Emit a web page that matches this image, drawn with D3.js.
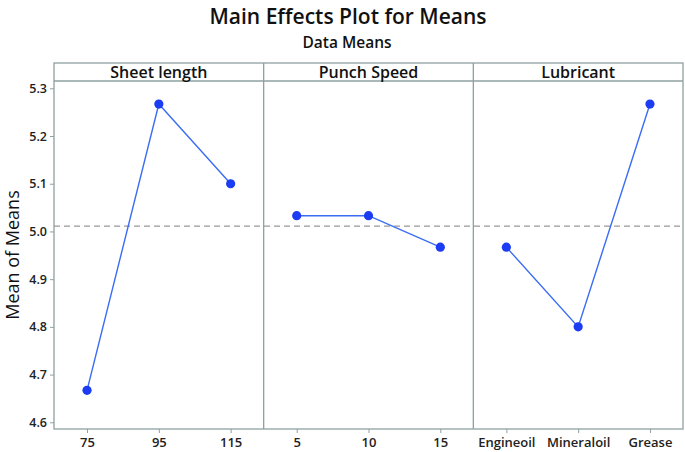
<!DOCTYPE html>
<html><head><meta charset="utf-8">
<script src="https://cdn.jsdelivr.net/npm/d3@7"></script>
<style>body{margin:0;background:#fff}svg{display:block}</style>
</head><body>
<script>
const factors = ["Sheet length", "Punch Speed", "Lubricant"];
const sheetLevels = ["75", "95", "115"];
const sheetMeans = [4.667, 5.267, 5.100];
const speedLevels = ["5", "10", "15"];
const speedMeans = [5.033, 5.033, 4.967];
const lubLevels = ["Engineoil", "Mineraloil", "Grease"];
const lubMeans = [4.967, 4.800, 5.267];
const yTicks = [4.6, 4.7, 4.8, 4.9, 5.0, 5.1, 5.2, 5.3];
const grandMean = 5.011;

const panels = [
  {name: factors[0], levels: sheetLevels, means: sheetMeans},
  {name: factors[1], levels: speedLevels, means: speedMeans},
  {name: factors[2], levels: lubLevels, means: lubMeans}
];

(function () {
const W = 685, H = 452;
const pLeft = 54, pRight = 683, pTop = 63, headerBottom = 81, pBottom = 429;
const font = "'Open Sans', 'Noto Sans', sans-serif";
const frame = "#8fa0a0";
const blue = "#1b3cf2";

const svg = d3.select("body").append("svg").attr("width", W).attr("height", H)
  .style("font-family", font);

svg.append("text").attr("x", 348).attr("y", 24).attr("text-anchor", "middle")
  .attr("font-size", 21).attr("font-weight", 600).attr("fill", "#111")
  .text("Main Effects Plot for Means");
svg.append("text").attr("x", 347).attr("y", 48).attr("text-anchor", "middle")
  .attr("font-size", 15.5).attr("font-weight", 600).attr("fill", "#111")
  .text("Data Means");

const y = d3.scaleLinear().domain([4.6, 5.3]).range([422.3, 88.3]);
const panelX = d3.scaleBand().domain(factors).range([pLeft, pRight]);

svg.append("rect").attr("x", pLeft).attr("y", pTop).attr("width", pRight - pLeft).attr("height", pBottom - pTop)
  .attr("fill", "none").attr("stroke", frame).attr("stroke-width", 1.3);
svg.append("line").attr("x1", pLeft).attr("x2", pRight).attr("y1", headerBottom).attr("y2", headerBottom)
  .attr("stroke", frame).attr("stroke-width", 1.3);

const yAxis = svg.append("g").attr("transform", `translate(${pLeft},0)`)
  .call(d3.axisLeft(y).tickValues(yTicks).tickFormat(d3.format(".1f")).tickSize(4).tickPadding(3));
yAxis.select(".domain").remove();
yAxis.selectAll(".tick line").attr("stroke", frame);
yAxis.selectAll("text").attr("font-size", 12.5).attr("font-family", font).attr("fill", "#222").attr("font-weight", 600);

svg.append("text").attr("transform", "translate(19,255) rotate(-90)").attr("text-anchor", "middle")
  .attr("font-size", 18).attr("fill", "#111").attr("font-weight", 500).text("Mean of Means");

svg.append("line").attr("x1", pLeft).attr("x2", pRight).attr("y1", y(grandMean)).attr("y2", y(grandMean))
  .attr("stroke", "#999").attr("stroke-width", 1.2).attr("stroke-dasharray", "6,4");

panels.forEach((p, i) => {
  const x0 = panelX(p.name), x1 = x0 + panelX.bandwidth();
  if (i > 0) {
    svg.append("line").attr("x1", x0).attr("x2", x0).attr("y1", pTop).attr("y2", pBottom)
      .attr("stroke", frame).attr("stroke-width", 1.3);
  }
  svg.append("text").attr("x", (x0 + x1) / 2).attr("y", 78).attr("text-anchor", "middle")
    .attr("font-size", 16).attr("font-weight", 600).attr("fill", "#111").text(p.name);

  const x = d3.scalePoint().domain(p.levels).range([x0, x1]).padding(0.46);
  const xa = svg.append("g").attr("transform", `translate(0,${pBottom})`)
    .call(d3.axisBottom(x).tickSize(4).tickPadding(5));
  xa.select(".domain").remove();
  xa.selectAll(".tick line").attr("stroke", frame);
  xa.selectAll("text").attr("font-size", 13).attr("font-family", font).attr("fill", "#222").attr("font-weight", 600);

  const pts = p.levels.map((l, k) => [x(l), y(p.means[k])]);
  svg.append("path").attr("d", d3.line()(pts)).attr("fill", "none")
    .attr("stroke", "#3a6cf5").attr("stroke-width", 1.4);
  svg.selectAll(null).data(pts).enter().append("circle")
    .attr("cx", d => d[0]).attr("cy", d => d[1]).attr("r", 4.6).attr("fill", blue);
});
})();
</script>
</body></html>
